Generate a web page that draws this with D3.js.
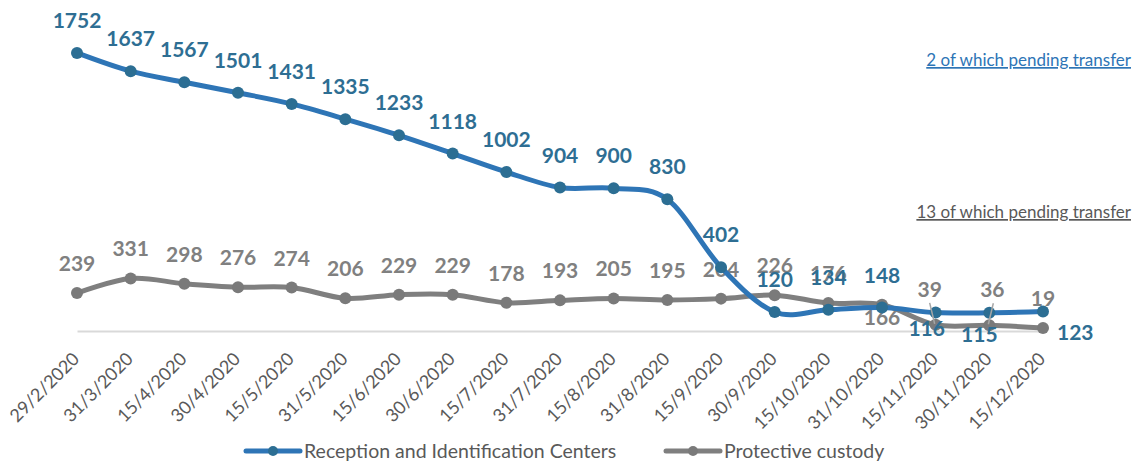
<!DOCTYPE html>
<meta charset="utf-8">
<style>
  body{ margin:0; background:#fff; }
  text{ font-family: Lato, "Noto Sans", sans-serif; }
</style>

<svg width="1132" height="461"></svg>

<script src="https://d3js.org/d3.v7.min.js"></script>
<script>
  // data
  const dates = ['29/2/2020','31/3/2020','15/4/2020','30/4/2020','15/5/2020','31/5/2020','15/6/2020',
    '30/6/2020','15/7/2020','31/7/2020','15/8/2020','31/8/2020','15/9/2020','30/9/2020',
    '15/10/2020','31/10/2020','15/11/2020','30/11/2020','15/12/2020']
  const ric = [1752,1637,1567,1501,1431,1335,1233,1118,1002,904,900,830,402,120,134,148,116,115,123]
  const custody = [239,331,298,276,274,206,229,229,178,193,205,195,204,226,176,166,39,36,19]
  const seriesNames = ['Reception and Identification Centers', 'Protective custody']
  const notes = ['2 of which pending transfer', '13 of which pending transfer']

  // label placement: 'a' above, 'b' below, 'bb' further below, 'r' right, 'h' high
  const ricPlace = ['a','a','a','a','a','a','a','a','a','a','a','a','a','a','a','a','b','bb','r']
  const custodyPlace = ['a','a','a','a','a','a','a','a','a','a','a','a','a','a','a','b','h','h','a']

  const blue = '#2e75b6', blueDark = '#2c6e93', grey = '#808080'

  const svg = d3.select('svg')

  let x = d3.scalePoint().domain(dates).range([77, 1043])
  let y = d3.scaleLinear().domain([0, 2000]).range([331, 13.6])

  // axis
  let xAxis = d3.axisBottom(x).tickSize(0).tickSizeOuter(0)
  let ax = svg.append('g')
    .attr('transform', 'translate(0,331)')
    .call(xAxis)
  ax.select('.domain').attr('stroke', '#d9d9d9').attr('stroke-width', 2)
  ax.selectAll('text')
    .attr('fill', '#595959')
    .style('font-size', '18px')
    .attr('text-anchor', 'end')
    .attr('y', 0)
    .attr('dy', 0)
    .attr('transform', 'translate(3,29) rotate(-45)')

  let line = d3.line()
    .x((d, i) => x(dates[i]))
    .y(d => y(d))
    .curve(d3.curveCardinal.tension(0))

  function drawSeries(vals, lineCol, dotCol, labelCol, place){
    svg.append('path')
      .datum(vals)
      .attr('d', line)
      .attr('fill', 'none')
      .attr('stroke', lineCol)
      .attr('stroke-width', 5)
      .attr('stroke-linecap', 'round')
    svg.append('g').selectAll('circle')
      .data(vals)
      .enter()
      .append('circle')
      .attr('cx', (d, i) => x(dates[i]))
      .attr('cy', d => y(d))
      .attr('r', 6)
      .attr('fill', dotCol)
    return svg.append('g').selectAll('text')
      .data(vals)
      .enter()
      .append('text')
      .text(d => d)
      .attr('fill', labelCol)
      .style('font-size', '21px')
      .style('font-weight', 700)
      .attr('text-anchor', (d, i) => place[i] == 'r' ? 'start' : 'middle')
  }

  const dyOf = {a: -22, b: 20, h: -28}
  drawSeries(custody, '#7f7f7f', '#7a7a7a', grey, custodyPlace)
    .attr('x', (d, i) => x(dates[i]) + (i == 16 ? -6 : (i == 17 ? 3 : 0)))
    .attr('y', (d, i) => y(d) + dyOf[custodyPlace[i]])

  const ricDx = {a: 0, b: -9, bb: -10, r: 14}
  const ricDy = {a: -25, b: 23, bb: 29, r: 29}
  drawSeries(ric, blue, blueDark, '#2e6e93', ricPlace)
    .attr('x', (d, i) => x(dates[i]) + ricDx[ricPlace[i]])
    .attr('y', (d, i) => y(d) + ricDy[ricPlace[i]])

  // leader lines for small custody labels
  ;[16, 17].forEach(i => {
    let px = x(dates[i]), py = y(custody[i])
    svg.append('line')
      .attr('x1', px + (i == 16 ? -6 : 4)).attr('y1', py - 22)
      .attr('x2', px - 1).attr('y2', py - 1)
      .attr('stroke', '#a6a6a6').attr('stroke-width', 1.5)
  })

  // notes
  svg.append('text')
    .text(notes[0])
    .attr('x', 1131).attr('y', 66)
    .attr('text-anchor', 'end')
    .attr('fill', blue)
    .style('font-size', '17px')
    .style('text-decoration', 'underline')
  svg.append('text')
    .text(notes[1])
    .attr('x', 1131).attr('y', 218)
    .attr('text-anchor', 'end')
    .attr('fill', '#595959')
    .style('font-size', '17px')
    .style('text-decoration', 'underline')

  // legend
  const legendX = [246, 666]
  const legendCols = [[blue, blueDark], ['#7f7f7f', '#7a7a7a']]
  seriesNames.forEach((name, k) => {
    let g = svg.append('g').attr('transform', 'translate(' + legendX[k] + ',451)')
    g.append('line').attr('x1', 0).attr('x2', 54)
      .attr('stroke', legendCols[k][0]).attr('stroke-width', 5).attr('stroke-linecap', 'round')
    g.append('circle').attr('cx', 27).attr('r', 5).attr('fill', legendCols[k][1])
    g.append('text').text(name)
      .attr('x', 58).attr('y', 7)
      .attr('fill', '#595959')
      .style('font-size', '19.5px')
  })
</script>
